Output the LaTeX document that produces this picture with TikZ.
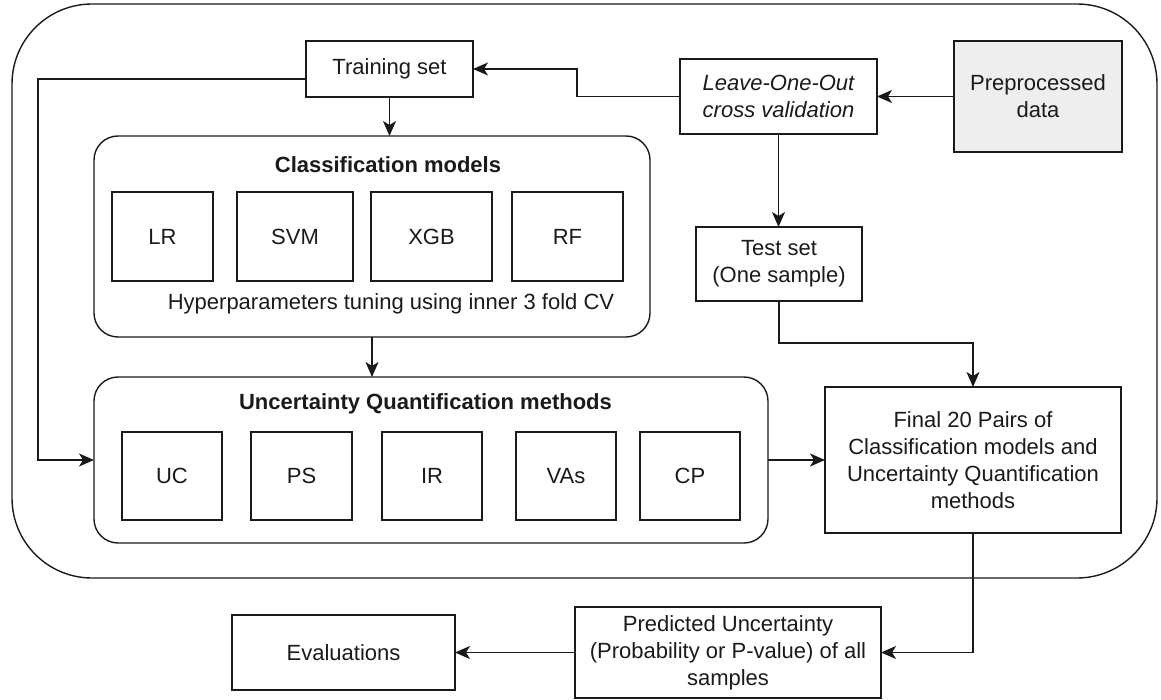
\documentclass[tikz,border=0pt]{standalone}
\usepackage{fontspec}
\setmainfont{Liberation Sans}
\usetikzlibrary{arrows.meta}
\definecolor{inkc}{HTML}{1A1A1A}
\definecolor{datafill}{HTML}{EEEEEE}
\tikzset{
  every node/.style={font=\fontsize{22}{27}\selectfont, align=center, inner sep=0pt, outer sep=0pt, text=inkc},
  box/.style={draw=inkc, line width=1.4pt, minimum width=#1},
  box/.default=100pt,
  group/.style={draw=inkc, line width=1.4pt, rounded corners=24pt},
  arr/.style={draw=inkc, line width=1.4pt, -{Stealth[length=15pt,width=13pt,inset=4pt]}},
}
\begin{document}
\begin{tikzpicture}[x=1pt, y=-1pt]
\useasboundingbox (0,0) rectangle (1161,700);

% outer frame
\node[draw=inkc, line width=1.4pt, rounded corners=80pt, minimum width=1145pt, minimum height=574pt] (frame) at (584.5,291) {};

% top row
\node[box=167pt, minimum height=56pt] (train) at (389.5,69) {Training set};
\node[box=197pt, minimum height=75pt] (loo) at (778.5,96.5) {\itshape Leave-One-Out\\\itshape cross validation};
\node[box=168pt, minimum height=111pt, fill=datafill] (pre) at (1038,96.5) {Preprocessed\\data};

% classification models group
\node[group, minimum width=556pt, minimum height=201pt] (class) at (372,236.5) {};
\node[font=\fontsize{22}{27}\selectfont\bfseries] (classtitle) at (388,165) {Classification models};
\node[box=101pt, minimum height=89pt] (lr)  at (162.5,236.5) {LR};
\node[box=116pt, minimum height=89pt] (svm) at (295,236.5) {SVM};
\node[box=121pt, minimum height=89pt] (xgb) at (431.5,236.5) {XGB};
\node[box=111pt, minimum height=89pt] (rf)  at (567.5,236.5) {RF};
\node (tune) at (391,304) {Hyperparameters tuning using inner 3 fold CV};

% uncertainty quantification group
\node[group, minimum width=674pt, minimum height=166pt] (uq) at (431,460) {};
\node[font=\fontsize{22}{27}\selectfont\bfseries] (uqtitle) at (425.5,404) {Uncertainty Quantification methods};
\node[box=100pt, minimum height=88pt] (uc)  at (172,476) {UC};
\node[box=101pt, minimum height=88pt] (ps)  at (301.5,476) {PS};
\node[box=100pt, minimum height=88pt] (ir)  at (432,476) {IR};
\node[box=100pt, minimum height=88pt] (vas) at (566,476) {VAs};
\node[box=100pt, minimum height=88pt] (cp)  at (690,476) {CP};

% right column
\node[box=166pt, minimum height=74pt] (test) at (779,264) {Test set\\(One sample)};
\node[box=296pt, minimum height=146pt] (final) at (973,460) {Final 20 Pairs of\\Classification models and\\Uncertainty Quantification\\methods};

% bottom row
\node[box=306pt, minimum height=91pt] (pred) at (728,652.5) {Predicted Uncertainty\\(Probability or P-value) of all\\samples};
\node[box=223pt, minimum height=75pt] (eval) at (343.5,652.5) {Evaluations};

% bend points
\coordinate (b1) at (577,69);
\coordinate (b2) at (38,79);
\coordinate (b3) at (779,343);

% connectors
\draw[arr] (pre.west) -- (loo.east);
\draw[arr] (loo.west) -| (b1) -- (train.east);
\draw[arr] (train.south) -- (train.south |- class.north);
\draw[arr] ([yshift=-10pt]train.west) -- (b2) |- (uq.west);
\draw[arr] (class.south) -- (class.south |- uq.north);
\draw[arr] (uq.east) -- (uq.east -| final.west);
\draw[arr] (loo.south) -- (loo.south |- test.north);
\draw[arr] (test.south) -- (b3) -| (final.north);
\draw[arr] (final.south) |- (pred.east);
\draw[arr] (pred.west) -- (eval.east);
\end{tikzpicture}
\end{document}
